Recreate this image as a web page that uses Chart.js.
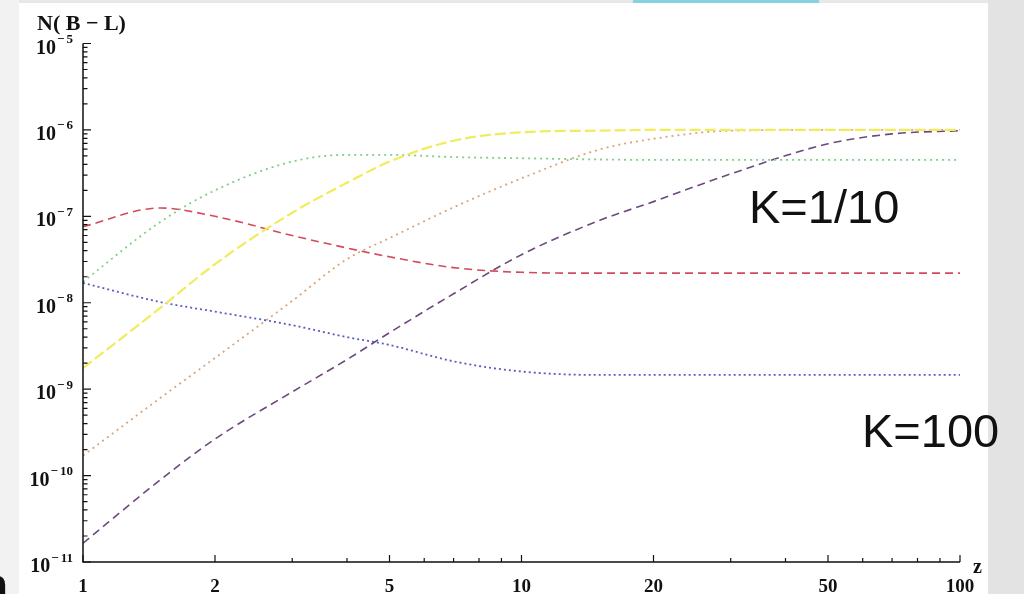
<!DOCTYPE html>
<html>
<head>
<meta charset="utf-8">
<script src="https://cdn.jsdelivr.net/npm/chart.js@4.4.1/dist/chart.umd.min.js"></script>
<style>
  html, body { margin: 0; padding: 0; background: #e6e6e6; }
  canvas { display: block; }
</style>
</head>
<body>
<canvas id="grafico" width="1024" height="594"></canvas>
<script>
// z values (log axis) shared by every curve
const zValues = [1, 1.5, 2, 3, 4, 5, 7, 10, 15, 20, 30, 50, 70, 100];

// N(B-L)
const redCurve    = [7.6e-8, 1.25e-7, 1.0e-7, 6.0e-8, 4.3e-8, 3.4e-8, 2.55e-8, 2.25e-8, 2.2e-8, 2.2e-8, 2.2e-8, 2.2e-8, 2.2e-8, 2.2e-8];
const greenCurve  = [1.75e-8, 8.6e-8, 2.0e-7, 4.3e-7, 5.15e-7, 5.15e-7, 4.85e-7, 4.7e-7, 4.55e-7, 4.5e-7, 4.5e-7, 4.5e-7, 4.5e-7, 4.5e-7];
const yellowCurve = [1.75e-9, 8.7e-9, 2.8e-8, 1.1e-7, 2.45e-7, 4.3e-7, 7.5e-7, 9.4e-7, 9.8e-7, 1.0e-6, 1.0e-6, 1.0e-6, 1.0e-6, 1.0e-6];
const orangeCurve = [1.7e-10, 7.9e-10, 2.3e-9, 1.05e-8, 3.2e-8, 5.6e-8, 1.27e-7, 2.75e-7, 5.9e-7, 7.9e-7, 9.8e-7, 1.0e-6, 1.0e-6, 1.0e-6];
const purpleCurve = [1.65e-11, 8.9e-11, 2.65e-10, 9.3e-10, 2.2e-9, 4.5e-9, 1.27e-8, 3.6e-8, 8.9e-8, 1.48e-7, 3.1e-7, 6.9e-7, 9.0e-7, 9.8e-7];
const blueCurve   = [1.7e-8, 1.02e-8, 7.9e-9, 5.5e-9, 4.0e-9, 3.25e-9, 2.1e-9, 1.6e-9, 1.46e-9, 1.46e-9, 1.46e-9, 1.46e-9, 1.46e-9, 1.46e-9];

// tick labels
const xTickLabels = [1, 2, 5, 10, 20, 50, 100];
const yExponents  = [-5, -6, -7, -8, -9, -10, -11];

const toPoints = arr => arr.map((v, i) => ({ x: zValues[i], y: v }));

function serie(label, values, color, dash, width) {
    return {
        label: label,
        data: toPoints(values),
        borderColor: color,
        borderWidth: width,
        borderDash: dash,
        pointRadius: 0,
        fill: false,
        cubicInterpolationMode: 'monotone'
    };
}

// background of the slide
const fondo = {
    id: 'fondo',
    beforeDraw(chart) {
        const ctx = chart.ctx;
        ctx.save();
        ctx.fillStyle = '#e7e7e7';
        ctx.fillRect(0, 0, 1024, 594);
        ctx.fillStyle = '#f2f2f2';
        ctx.fillRect(0, 0, 19, 594);
        ctx.fillStyle = '#e3e3e3';
        ctx.fillRect(988, 0, 36, 594);
        ctx.fillStyle = '#ffffff';
        ctx.fillRect(19, 3, 969, 591);
        ctx.fillStyle = '#86d3df';
        ctx.fillRect(633, 0, 186, 3);
        ctx.restore();
    }
};

// axes drawn by hand (ticks point inward, like the original)
const ejes = {
    id: 'ejes',
    afterDraw(chart) {
        const ctx = chart.ctx;
        const xs = chart.scales.x, ys = chart.scales.y;
        const x0 = xs.getPixelForValue(1), x1 = xs.getPixelForValue(100);
        const yTop = ys.getPixelForValue(1e-5), yBot = ys.getPixelForValue(1e-11);
        ctx.save();
        ctx.strokeStyle = '#111';
        ctx.lineWidth = 1.5;
        ctx.beginPath();
        ctx.moveTo(x0, yTop); ctx.lineTo(x0, yBot); ctx.lineTo(x1, yBot);
        ctx.stroke();

        ctx.lineWidth = 1.2;
        ctx.beginPath();
        for (let e = -11; e <= -5; e++) {
            for (let k = 1; k <= 9; k++) {
                const v = k * Math.pow(10, e);
                if (v > 1.0001e-5) break;
                const y = ys.getPixelForValue(v);
                ctx.moveTo(x0, y);
                ctx.lineTo(x0 + (k === 1 ? 8 : 4.5), y);
            }
        }
        for (let d = 1; d <= 100; d *= 10) {
            for (let k = 1; k <= 9; k++) {
                const v = k * d;
                if (v > 100) break;
                const x = xs.getPixelForValue(v);
                const mayor = xTickLabels.includes(v);
                ctx.moveTo(x, yBot);
                ctx.lineTo(x, yBot - (mayor ? 7 : 4));
            }
        }
        ctx.stroke();

        // y labels 10^e
        ctx.fillStyle = '#111';
        ctx.textBaseline = 'alphabetic';
        yExponents.forEach(e => {
            const y = ys.getPixelForValue(Math.pow(10, e));
            const digits = String(Math.abs(e));
            ctx.font = 'bold 13px "Liberation Serif", serif';
            const wDig = ctx.measureText(digits).width;
            const wMin = ctx.measureText('\u2212').width;
            ctx.textAlign = 'left';
            const xDig = 73 - wDig;
            ctx.fillText(digits, xDig, y - 0.5);
            const xMin = xDig - 2 - wMin;
            ctx.fillText('\u2212', xMin, y - 0.5);
            ctx.font = 'bold 20px "Liberation Serif", serif';
            ctx.textAlign = 'right';
            ctx.fillText('10', xMin - 1, y + 10);
        });

        // x labels
        ctx.font = 'bold 19px "Liberation Serif", serif';
        ctx.textAlign = 'center';
        xTickLabels.forEach(v => {
            ctx.fillText(String(v), xs.getPixelForValue(v), 592);
        });
        ctx.textAlign = 'left';
        ctx.font = 'bold 20px "Liberation Serif", serif';
        ctx.fillText('z', 973, 573);

        // axis title
        ctx.font = 'bold 22px "Liberation Serif", serif';
        ctx.fillText('N( B \u2212 L)', 37, 30);

        // annotations
        ctx.font = '47px "Liberation Sans", Arial, sans-serif';
        ctx.fillText('K=1/10', 749, 223);
        ctx.fillText('K=100', 862, 447);

        // slide text cut at the edge
        ctx.font = 'bold 44px "Liberation Sans", Arial, sans-serif';
        ctx.fillText('n', -19, 600);
        ctx.restore();
    }
};

new Chart(document.getElementById('grafico').getContext('2d'), {
    type: 'line',
    data: {
        datasets: [
            serie('amarillo', yellowCurve, '#f0ec5c', [11, 4], 2.2),
            serie('verde', greenCurve, '#7fcf85', [2, 4], 1.8),
            serie('naranja', orangeCurve, '#d9a57a', [2, 4], 1.8),
            serie('rojo', redCurve, '#d24a5c', [8, 5], 1.6),
            serie('morado', purpleCurve, '#6d4a7e', [8, 5], 1.6),
            serie('azul', blueCurve, '#5c5cc4', [2, 3], 1.8)
        ]
    },
    options: {
        responsive: false,
        animation: false,
        layout: { padding: { left: 83, right: 64, top: 43.5, bottom: 32 } },
        plugins: { legend: { display: false }, tooltip: { enabled: false } },
        scales: {
            x: { type: 'logarithmic', min: 1, max: 100, display: false },
            y: { type: 'logarithmic', min: 1e-11, max: 1e-5, display: false }
        }
    },
    plugins: [fondo, ejes]
});
</script>
</body>
</html>
